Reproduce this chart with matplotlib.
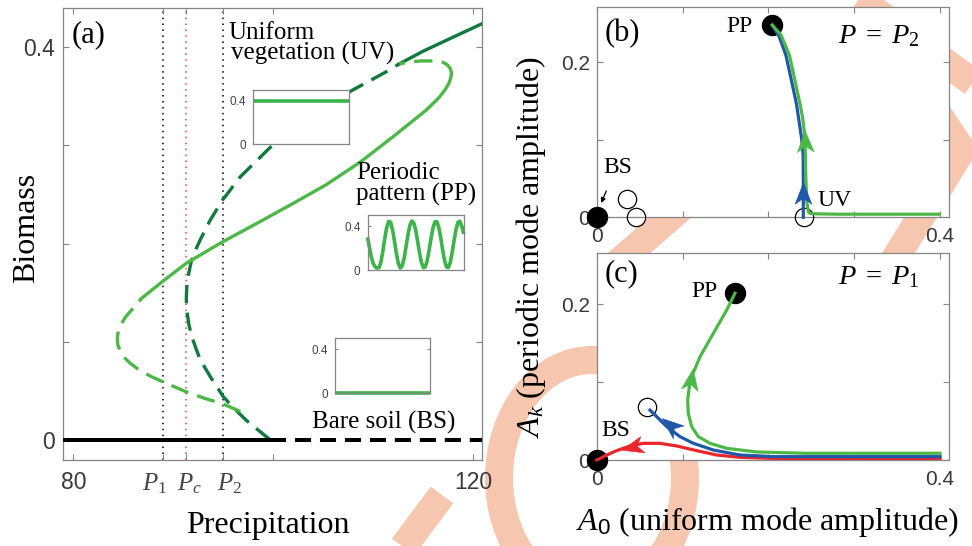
import numpy as np
import matplotlib
matplotlib.use("Agg")
import matplotlib.pyplot as plt
from matplotlib.markers import MarkerStyle
from matplotlib.path import Path
from matplotlib.transforms import Affine2D
from matplotlib.patches import Ellipse

# ---------------- data ----------------
P1, Pc, P2 = 88.95, 91.27, 94.95

bs_stable_P = [79.0, 99.7]
bs_stable_B = [0.0, 0.0]
bs_unstable_P = [99.7, 120.9]
bs_unstable_B = [0.0, 0.0]

uv_unstable_P = [99.7, 98.5, 97.3, 96.1, 95.0, 93.7, 92.7, 92.2, 91.8, 91.55, 91.35, 91.3, 91.35,
                 91.55, 91.8, 92.2, 92.7, 93.7, 94.9, 96.7, 99.7, 103.7, 107.7, 111.3, 112.6]
uv_unstable_B = [0.0, 0.010, 0.020, 0.032, 0.044, 0.0645, 0.0815, 0.095, 0.107, 0.118, 0.132, 0.144,
                 0.156, 0.170, 0.182, 0.193, 0.204, 0.224, 0.244, 0.268, 0.298, 0.328, 0.355, 0.375, 0.383]
uv_stable_P = [112.6, 115.0, 117.3, 120.9]
uv_stable_B = [0.383, 0.396, 0.407, 0.424]

pp_low_P = [96.7, 94.9, 93.1, 91.3, 89.0, 87.8, 86.7, 85.7, 85.1, 84.7, 84.45, 84.4, 84.5,
            84.8, 85.2, 85.8, 86.4, 86.8]
pp_low_B = [0.029, 0.037, 0.0425, 0.049, 0.059, 0.0645, 0.0705, 0.078, 0.084, 0.090, 0.097, 0.104,
            0.111, 0.118, 0.125, 0.132, 0.139, 0.144]
pp_stable_P = [86.8, 89.0, 91.3, 94.8, 98.7, 102.0, 105.3, 108.7, 112.0, 115.3, 116.6, 117.2,
               117.6, 117.8]
pp_stable_B = [0.144, 0.162, 0.180, 0.201, 0.2225, 0.241, 0.260, 0.283, 0.309, 0.336, 0.349, 0.357,
               0.364, 0.371]
pp_high_P = [117.8, 117.8, 117.65, 117.4, 117.0, 116.0, 114.8, 113.7, 112.6]
pp_high_B = [0.371, 0.375, 0.379, 0.382, 0.3845, 0.386, 0.386, 0.385, 0.383]

inset_uv_profile = [0.4, 0.4]
inset_bs_profile = [0.0, 0.0]
inset_pp_profile = [0.30, 0.21, 0.12, 0.06, 0.03, 0.02, 0.024, 0.077, 0.176, 0.293, 0.392, 0.445,
                    0.436, 0.37, 0.266, 0.153, 0.063, 0.021, 0.039, 0.108, 0.212, 0.322, 0.408,
                    0.448, 0.432, 0.366, 0.266, 0.16, 0.072, 0.024, 0.03, 0.088, 0.183, 0.291,
                    0.385, 0.44, 0.443, 0.391, 0.298, 0.188, 0.09, 0.03, 0.025, 0.074, 0.166,
                    0.276, 0.375, 0.437, 0.446, 0.398, 0.33]

# panel (b): P = P2
b_green_A = [0.399, 0.34, 0.28, 0.255, 0.2486, 0.2468, 0.2447, 0.2435, 0.2427, 0.2400, 0.2368,
             0.2307, 0.2246, 0.2146, 0.2046]
b_green_K = [0.004, 0.004, 0.004, 0.0045, 0.005, 0.007, 0.020, 0.057, 0.102, 0.128, 0.1466,
             0.178, 0.209, 0.2357, 0.248]
b_blue_A = [0.2407, 0.2407, 0.2405, 0.2387, 0.2327, 0.2266, 0.2205, 0.2125, 0.2046]
b_blue_K = [0.0, 0.05, 0.08, 0.102, 0.1466, 0.178, 0.209, 0.2335, 0.248]
b_fixed_filled_A = [0.0, 0.2046]
b_fixed_filled_K = [0.0, 0.248]
b_fixed_open_A = [0.0353, 0.0454, 0.2415]
b_fixed_open_K = [0.0239, 0.0, 0.0]
b_arrows = [("green", (0.2432, 0.084), (0.2424, 0.113)),
            ("blue", (0.2407, 0.017), (0.2407, 0.047))]

# panel (c): P = P1
c_green_A = [0.4, 0.2447, 0.1864, 0.1515, 0.132, 0.1184, 0.1107, 0.1067, 0.106, 0.1079, 0.1107,
             0.1204, 0.1359, 0.1515, 0.1611]
c_green_K = [0.0086, 0.0086, 0.0103, 0.015, 0.0214, 0.030, 0.0428, 0.060, 0.077, 0.094, 0.107,
             0.1326, 0.1626, 0.1926, 0.214]
c_blue_A = [0.4, 0.2058, 0.167, 0.1359, 0.1126, 0.097, 0.0816, 0.068, 0.062]
c_blue_K = [0.0043, 0.0043, 0.0064, 0.0128, 0.0214, 0.030, 0.0428, 0.0578, 0.064]
c_red_A = [0.4, 0.2058, 0.167, 0.1398, 0.1165, 0.0932, 0.0738, 0.0543, 0.0388, 0.0233, 0.0117, 0.002, 0.0]
c_red_K = [0.0021, 0.0021, 0.0034, 0.0064, 0.012, 0.018, 0.0214, 0.0214, 0.018, 0.012, 0.0064, 0.0009, 0.0]
c_fixed_filled_A = [0.0, 0.1611]
c_fixed_filled_K = [0.0, 0.214]
c_fixed_open_A = [0.0583]
c_fixed_open_K = [0.0684]
c_arrows = [("green", (0.1079, 0.091), (0.1117, 0.117)),
            ("blue", (0.0963, 0.035), (0.0735, 0.056)),
            ("red", (0.0524, 0.0205), (0.029, 0.0137))]

# ---------------- style ----------------
plt.rcParams['mathtext.fontset'] = 'custom'
plt.rcParams['mathtext.rm'] = 'Liberation Serif'
plt.rcParams['mathtext.it'] = 'Liberation Serif:italic'
plt.rcParams['mathtext.bf'] = 'Liberation Serif:bold'
plt.rcParams['mathtext.sf'] = 'Liberation Sans'
SERIF = ['Liberation Serif', 'DejaVu Serif']
SANS = ['Liberation Sans', 'DejaVu Sans']
DKGREEN = '#0f7a3c'
LTGREEN = '#4cb848'
BLUE = '#1f58a8'
RED = '#e8272d'
FRAME = '#858585'
TICKLAB = '#3a3a3a'
SALMON = '#f7c6ae'
COLORS = {"green": LTGREEN, "blue": BLUE, "red": RED}

W, H, DPI = 972, 546, 100
fig = plt.figure(figsize=(W / DPI, H / DPI), dpi=DPI)
fig.patch.set_facecolor('white')


def rect(l, t, r, b):
    return [l / W, 1 - b / H, (r - l) / W, (b - t) / H]


def ftext(x, y, s, **kw):
    return fig.text(x / W, 1 - y / H, s, **kw)


def style_frame(ax, lsize, pad_x, pad_y):
    for sp in ax.spines.values():
        sp.set_color(FRAME)
        sp.set_linewidth(0.9)
    ax.tick_params(direction='in', top=True, right=True, length=4, width=0.8,
                   color=FRAME, labelsize=lsize, labelcolor=TICKLAB)
    ax.tick_params(axis='x', pad=pad_x)
    ax.tick_params(axis='y', pad=pad_y)
    for lab in ax.get_xticklabels() + ax.get_yticklabels():
        lab.set_family(SANS)


# ---------------- background watermark ----------------
bg = fig.add_axes([0, 0, 1, 1], zorder=-10)
bg.set_xlim(0, W)
bg.set_ylim(H, 0)
bg.axis('off')
band = 28 * 72 / DPI
bg.add_patch(Ellipse((592, 478), 2 * 93, 2 * 118, fill=False, ec=SALMON, lw=band))
for pts in [[(840, -15), (990, 95)],
            [(912, 75), (962, 150), (885, 275)],
            [(612, 268), (690, 200)],
            [(392, 562), (442, 495)]]:
    xs, ys = zip(*pts)
    bg.plot(xs, ys, color=SALMON, lw=band, solid_capstyle='butt', solid_joinstyle='miter')

# ---------------- panel (a) ----------------
axa = fig.add_axes(rect(63.3, 8, 482.3, 460))
axa.set_xlim(79.0, 120.9)
axa.set_ylim(-0.0204, 0.4399)
axa.axvline(P1, color='black', lw=1.1, ls=(0, (1, 2.9)), zorder=1)
axa.axvline(P2, color='black', lw=1.1, ls=(0, (1, 2.9)), zorder=1)
axa.axvline(Pc, color='#f03a3a', lw=1.1, ls=(0, (1, 2.9)), zorder=1)

axa.plot(uv_unstable_P, uv_unstable_B, color=DKGREEN, lw=2.4, dashes=(5.5, 2.8), zorder=2)
axa.plot(uv_stable_P, uv_stable_B, color=DKGREEN, lw=2.4, zorder=2)
axa.plot(pp_low_P, pp_low_B, color=LTGREEN, lw=2.4, dashes=(5.5, 2.8), zorder=2)
axa.plot(pp_stable_P, pp_stable_B, color=LTGREEN, lw=2.4, zorder=2)
axa.plot(pp_high_P, pp_high_B, color=LTGREEN, lw=2.4, dashes=(5.5, 2.8), zorder=2)
axa.plot(bs_stable_P, bs_stable_B, color='black', lw=2.9, zorder=3, solid_capstyle='butt')
axa.plot(bs_unstable_P, bs_unstable_B, color='black', lw=2.9, dashes=(4.0, 2.2), zorder=3)

axa.set_xticks([80, P1, Pc, P2, 100, 120])
axa.set_xticklabels(['80', '', '', '', '', '120'])
axa.set_yticks([0, 0.1, 0.2, 0.3, 0.4])
axa.set_yticklabels(['0', '', '', '', '0.4'])
style_frame(axa, 16.5, 8, 6)
for xc, s in [(155, r'$P_{\mathit{1}}$'), (189, r'$P_{\mathit{c}}$'), (230, r'$P_{\mathit{2}}$')]:
    ftext(xc, 484, s, fontsize=18, color='#444444', ha='center', va='center')

# insets
def inset(l, t, r, b, xs, ys):
    ax = fig.add_axes(rect(l, t, r, b))
    ax.set_facecolor('white')
    ax.plot(xs, ys, color='#3cb44a', lw=2.6, clip_on=False, solid_capstyle='butt')
    ax.set_xlim(0, 1)
    ax.set_ylim(0, 0.5)
    ax.set_xticks([])
    ax.set_yticks([0, 0.4])
    ax.set_yticklabels(['0', '0.4'])
    for sp in ax.spines.values():
        sp.set_color(FRAME)
        sp.set_linewidth(0.9)
    ax.tick_params(axis='y', direction='in', length=2, right=True, color=FRAME,
                   labelsize=8.5, labelcolor='#444444', pad=5)
    for lab in ax.get_yticklabels():
        lab.set_family(SANS)
    return ax


inset(253.3, 90, 349.3, 144.3, [0, 1], inset_uv_profile)
inset(367.5, 215.3, 463.8, 270.3, np.linspace(0, 1, len(inset_pp_profile)), inset_pp_profile)
inset(335, 338.3, 430, 393.3, [0, 1], inset_bs_profile)

ftext(72, 42.5, '(a)', fontsize=22, family=SERIF, va='baseline')
ftext(228.3, 39.3, 'Uniform', fontsize=18, family=SERIF, va='baseline')
ftext(230.7, 60, 'vegetation (UV)', fontsize=18, family=SERIF, va='baseline')
ftext(356, 179.5, 'Periodic', fontsize=18, family=SERIF, va='baseline')
ftext(356, 200.5, 'pattern (PP)', fontsize=18, family=SERIF, va='baseline')
ftext(311.7, 428.3, 'Bare soil (BS)', fontsize=18, family=SERIF, va='baseline')
ftext(27, 228, 'Biomass', fontsize=23, family=SERIF, rotation=90, ha='center', va='center')
ftext(267.5, 526, 'Precipitation', fontsize=23, family=SERIF, ha='center', va='center')

# ---------------- arrow heads ----------------
HEAD = Path([(1, 0), (-1, 0.78), (-0.45, 0), (-1, -0.78), (1, 0)],
            [Path.MOVETO, Path.LINETO, Path.LINETO, Path.LINETO, Path.CLOSEPOLY])


def draw_heads(ax, arrows, ms=15.5):
    for cname, tail, tip in arrows:
        c = COLORS[cname]
        p0 = ax.transData.transform(tail)
        p1 = ax.transData.transform(tip)
        ang = np.degrees(np.arctan2(p1[1] - p0[1], p1[0] - p0[0]))
        mk = MarkerStyle(HEAD, transform=Affine2D().rotate_deg(ang))
        ax.plot([(tail[0] + tip[0]) / 2], [(tail[1] + tip[1]) / 2], ls='none', marker=mk, ms=ms,
                color=c, mec=c, mew=0.4, clip_on=False, zorder=5)


def phase_axes(l, t, r, b, ytop):
    ax = fig.add_axes(rect(l, t, r, b))
    ax.set_xlim(0, 0.4108)
    ax.set_ylim(0, ytop)
    ax.set_xticks([0, 0.1, 0.2, 0.3, 0.4])
    ax.set_xticklabels(['0', '', '', '', '0.4'])
    ax.set_yticks([0, 0.1, 0.2])
    ax.set_yticklabels(['0', '', '0.2'])
    style_frame(ax, 15, 7, 5)
    return ax


# ---------------- panel (b) ----------------
axb = phase_axes(596.7, 7.3, 949.3, 217.3, 0.271)
axb.plot(b_fixed_filled_A, b_fixed_filled_K, 'o', ms=14.4, color='black', clip_on=False, zorder=2.6)
axb.plot(b_fixed_open_A, b_fixed_open_K, 'o', ms=13.2, mfc='none', mec='black', mew=0.9,
         clip_on=False, zorder=2.6)
axb.plot(b_blue_A, b_blue_K, color=BLUE, lw=2.3, zorder=3, clip_on=False)
axb.plot(b_green_A, b_green_K, color=LTGREEN, lw=2.3, zorder=3.1, clip_on=False)
draw_heads(axb, b_arrows)
axb.annotate('', xy=(0.0052, 0.0185), xytext=(0.0112, 0.034),
             arrowprops=dict(arrowstyle='-|>', lw=0.9, color='black', mutation_scale=7,
                             shrinkA=0, shrinkB=0), annotation_clip=False)
ftext(753, 26, 'PP', fontsize=17, family=SERIF, ha='right', va='center')
ftext(817, 200, 'UV', fontsize=17, family=SERIF, ha='left', va='center')
ftext(603, 167.6, 'BS', fontsize=17, family=SERIF, ha='left', va='center')
ftext(604.5, 41, '(b)', fontsize=22, family=SERIF, va='baseline')
ftext(838, 43, r'$P\;=\;P_{\mathit{2}}$', fontsize=20.5, va='baseline')

# ---------------- panel (c) ----------------
axc = phase_axes(596.7, 253.3, 949.3, 460, 0.2653)
axc.plot(c_fixed_filled_A, c_fixed_filled_K, 'o', ms=14.4, color='black', clip_on=False, zorder=2.6)
axc.plot(c_fixed_open_A, c_fixed_open_K, 'o', ms=13.2, mfc='none', mec='black', mew=0.9,
         clip_on=False, zorder=2.6)
axc.plot(c_red_A, c_red_K, color=RED, lw=2.3, zorder=3, clip_on=False)
axc.plot(c_blue_A, c_blue_K, color=BLUE, lw=2.3, zorder=3.1, clip_on=False)
axc.plot(c_green_A, c_green_K, color=LTGREEN, lw=2.3, zorder=3.2, clip_on=False)
draw_heads(axc, c_arrows)
ftext(718, 291.5, 'PP', fontsize=17, family=SERIF, ha='right', va='center')
ftext(601, 431, 'BS', fontsize=17, family=SERIF, ha='left', va='center')
ftext(604.5, 281.5, '(c)', fontsize=22, family=SERIF, va='baseline')
ftext(838, 284, r'$P\;=\;P_{\mathit{1}}$', fontsize=20.5, va='baseline')

ftext(531, 247, r'$A_k$ (periodic mode amplitude)', fontsize=23, family=SERIF,
      rotation=90, ha='center', va='center')
ftext(767, 522, r'$A_{\mathsf{0}}$ (uniform mode amplitude)', fontsize=23, family=SERIF,
      ha='center', va='center')

fig.savefig('out.png', dpi=DPI, facecolor='white')
